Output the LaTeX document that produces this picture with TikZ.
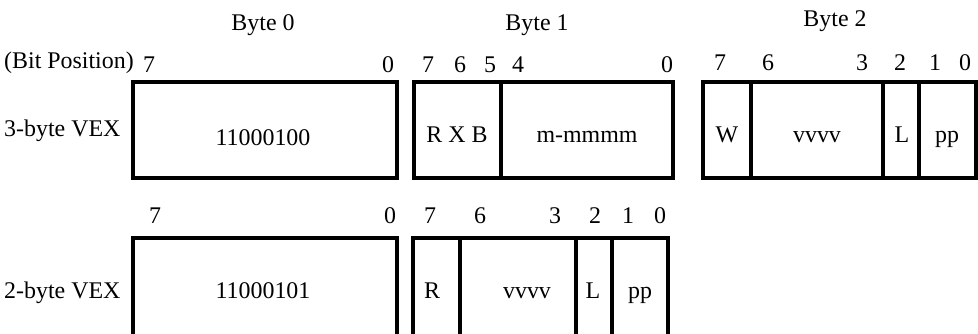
\documentclass[tikz,border=0pt]{standalone}
\usepackage{fontspec}
\setmainfont{Liberation Serif}
\begin{document}
\begin{tikzpicture}[x=1bp,y=-1bp,
  lbl/.style={anchor=base,inner sep=0pt,font=\fontsize{24}{28}\selectfont},
  fieldbox/.style={draw,line width=3.2bp},
  divider/.style={line width=3.2bp}]
\useasboundingbox (0,0) rectangle (978,333);
\clip (0,0) rectangle (978,333);
% top row boxes
\draw[fieldbox] (133,82) rectangle (397,178);
\draw[fieldbox] (414,82) rectangle (673,178);
\draw[divider] (501,82) -- (501,178);
\draw[fieldbox] (703,82) rectangle (976,178);
\draw[divider] (751,82) -- (751,178);
\draw[divider] (883,82) -- (883,178);
\draw[divider] (919,82) -- (919,178);
% bottom row boxes
\draw[fieldbox] (133,238) rectangle (397,360);
\draw[fieldbox] (413,238) rectangle (668,360);
\draw[divider] (460,238) -- (460,360);
\draw[divider] (576,238) -- (576,360);
\draw[divider] (612,238) -- (612,360);
% headers
\node[lbl] (b0) at (263,30) {Byte 0};
\node[lbl] (b1) at (537,30) {Byte 1};
\node[lbl] (b2) at (835,26) {Byte 2};
\node[lbl,anchor=base west] (bp) at (4,68) {(Bit Position)};
% top bit numbers
\node[lbl] (t07) at (149,72) {7};
\node[lbl] (t00) at (388,72) {0};
\node[lbl] (t17) at (428,72) {7};
\node[lbl] (t16) at (460,72) {6};
\node[lbl] (t15) at (490,72) {5};
\node[lbl] (t14) at (518,72) {4};
\node[lbl] (t10) at (667,72) {0};
\node[lbl] (t27) at (720,70) {7};
\node[lbl] (t26) at (768,70) {6};
\node[lbl] (t23) at (862,70) {3};
\node[lbl] (t22) at (900,70) {2};
\node[lbl] (t21) at (935,70) {1};
\node[lbl] (t20) at (965,70) {0};
% top labels
\node[lbl,anchor=base west] (v3) at (4,136) {3-byte VEX};
\node[lbl] (o3) at (263,145) {11000100};
\node[lbl] (rxb) at (457,142) {R X B};
\node[lbl] (mm) at (587,142) {m-mmmm};
\node[lbl] (w) at (727,142) {W};
\node[lbl] (v1) at (817,142) {vvvv};
\node[lbl] (l1) at (902,142) {L};
\node[lbl] (p1) at (947,142) {pp};
% bottom bit numbers
\node[lbl] (u07) at (155,223) {7};
\node[lbl] (u00) at (390,223) {0};
\node[lbl] (u17) at (430,223) {7};
\node[lbl] (u16) at (480,223) {6};
\node[lbl] (u13) at (555,223) {3};
\node[lbl] (u12) at (595,223) {2};
\node[lbl] (u11) at (628,223) {1};
\node[lbl] (u10) at (660,223) {0};
% bottom labels
\node[lbl,anchor=base west] (v2) at (4,298) {2-byte VEX};
\node[lbl] (o2) at (263,298) {11000101};
\node[lbl] (r2) at (432,298) {R};
\node[lbl] (v22) at (527,298) {vvvv};
\node[lbl] (l2) at (593,298) {L};
\node[lbl] (p2) at (640,298) {pp};
\end{tikzpicture}
\end{document}
